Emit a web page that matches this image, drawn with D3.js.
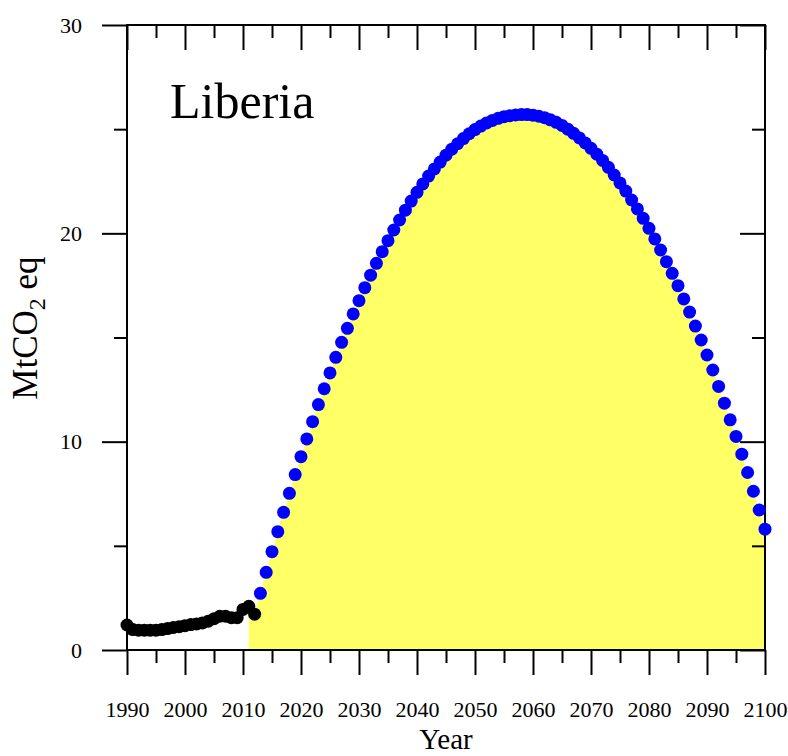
<!DOCTYPE html>
<html>
<head>
<meta charset="utf-8">
<script src="https://cdn.jsdelivr.net/npm/d3@7"></script>
<style>
  body { margin: 0; background: #fff; }
  svg { display: block; font-family: "Liberation Serif", "DejaVu Serif", serif; }
</style>
</head>
<body>
<svg id="chart" width="788" height="756"></svg>
<script>
// Historical emissions 1990-2012 (black)
const histYears = d3.range(1990, 2013);
const histValues = [1.2, 0.98, 0.95, 0.95, 0.95, 0.95, 0.98, 1.03, 1.08, 1.12, 1.17, 1.22,
    1.25, 1.3, 1.38, 1.5, 1.62, 1.62, 1.55, 1.55, 1.95, 2.1, 1.72];

// Projected pathway 2013-2100 (blue)
const projYears = d3.range(2013, 2101);
const projValues = [2.72, 3.73, 4.72, 5.68, 6.61, 7.52, 8.42, 9.28, 10.13, 10.96,
    11.78, 12.54, 13.3, 14.05, 14.77, 15.44, 16.13, 16.77, 17.39, 17.99,
    18.56, 19.12, 19.65, 20.16, 20.64, 21.11, 21.55, 21.97, 22.37, 22.75,
    23.09, 23.42, 23.75, 24.04, 24.3, 24.55, 24.78, 24.98, 25.15, 25.3,
    25.42, 25.52, 25.6, 25.65, 25.68, 25.7, 25.7, 25.67, 25.62, 25.55,
    25.45, 25.33, 25.18, 25.0, 24.8, 24.58, 24.34, 24.08, 23.8, 23.5,
    23.17, 22.8, 22.42, 22.03, 21.6, 21.17, 20.72, 20.24, 19.73, 19.2,
    18.64, 18.08, 17.49, 16.85, 16.22, 15.55, 14.88, 14.16, 13.44, 12.65,
    11.85, 11.05, 10.25, 9.4, 8.52, 7.62, 6.72, 5.8];

// Shaded budget area starts in 2011
const budgetLeadYears = [2011, 2012];
const budgetLeadValues = [2.0, 1.85];

const xMajor = d3.range(1990, 2101, 10);
const xMinor = d3.range(1995, 2100, 10);
const yMajor = [0, 10, 20, 30];
const yMinor = [5, 15, 25];

const svg = d3.select("#chart");
const plotL = 127, plotR = 765, plotT = 25, plotB = 650;

const x = d3.scaleLinear().domain([1990, 2100]).range([plotL, plotR]);
const y = d3.scaleLinear().domain([0, 30]).range([plotB, plotT]);

const hist = histYears.map((yr, i) => ({ year: yr, value: histValues[i] }));
const proj = projYears.map((yr, i) => ({ year: yr, value: projValues[i] }));
const budget = budgetLeadYears.map((yr, i) => ({ year: yr, value: budgetLeadValues[i] })).concat(proj);

// yellow area
svg.append("path")
    .datum(budget)
    .attr("fill", "#ffff66")
    .attr("d", d3.area()
        .x(d => x(d.year))
        .y0(y(0))
        .y1(d => y(d.value)));

// axes
function styleAxis(g) {
    g.select(".domain").remove();
    g.selectAll(".tick line").attr("stroke", "#000").attr("stroke-width", 2);
    g.selectAll(".tick text").attr("fill", "#000").style("font-size", "22px")
        .style("font-family", "Liberation Serif, serif");
}

svg.append("g").attr("transform", `translate(0,${plotB})`)
    .call(d3.axisBottom(x).tickValues(xMajor).tickSize(25).tickPadding(26).tickFormat(d3.format("d")))
    .call(styleAxis);
svg.append("g").attr("transform", `translate(0,${plotB})`)
    .call(d3.axisBottom(x).tickValues(xMinor).tickSize(13).tickFormat(""))
    .call(styleAxis);
svg.append("g").attr("transform", `translate(0,${plotT})`)
    .call(d3.axisTop(x).tickValues(xMajor).tickSize(-25).tickFormat(""))
    .call(styleAxis);
svg.append("g").attr("transform", `translate(0,${plotT})`)
    .call(d3.axisTop(x).tickValues(xMinor).tickSize(-13).tickFormat(""))
    .call(styleAxis);

svg.append("g").attr("transform", `translate(${plotL},0)`)
    .call(d3.axisLeft(y).tickValues(yMajor).tickSize(25).tickPadding(20))
    .call(styleAxis);
svg.append("g").attr("transform", `translate(${plotL},0)`)
    .call(d3.axisLeft(y).tickValues(yMinor).tickSize(13).tickFormat(""))
    .call(styleAxis);
svg.append("g").attr("transform", `translate(${plotR},0)`)
    .call(d3.axisRight(y).tickValues(yMajor).tickSize(-25).tickFormat(""))
    .call(styleAxis);
svg.append("g").attr("transform", `translate(${plotR},0)`)
    .call(d3.axisRight(y).tickValues(yMinor).tickSize(-13).tickFormat(""))
    .call(styleAxis);

// frame
svg.append("rect")
    .attr("x", plotL).attr("y", plotT)
    .attr("width", plotR - plotL).attr("height", plotB - plotT)
    .attr("fill", "none").attr("stroke", "#000").attr("stroke-width", 2);

// points
svg.append("g").selectAll("circle")
    .data(proj)
    .enter().append("circle")
    .attr("cx", d => x(d.year))
    .attr("cy", d => y(d.value))
    .attr("r", 6.5)
    .attr("fill", "#0000ff");

svg.append("g").selectAll("circle")
    .data(hist)
    .enter().append("circle")
    .attr("cx", d => x(d.year))
    .attr("cy", d => y(d.value))
    .attr("r", 6.5)
    .attr("fill", "#000");

// labels
svg.append("text")
    .attr("x", 170).attr("y", 118)
    .style("font-size", "50px")
    .text("Liberia");

const ylab = svg.append("text")
    .attr("transform", "translate(37,328) rotate(-90)")
    .attr("text-anchor", "middle")
    .style("font-size", "35px");
ylab.append("tspan").text("MtCO");
ylab.append("tspan").attr("dy", 8).style("font-size", "24px").text("2");
ylab.append("tspan").attr("dy", -8).text(" eq");

svg.append("text")
    .attr("x", (plotL + plotR) / 2).attr("y", 749)
    .attr("text-anchor", "middle")
    .style("font-size", "29px")
    .text("Year");
</script>
</body>
</html>
